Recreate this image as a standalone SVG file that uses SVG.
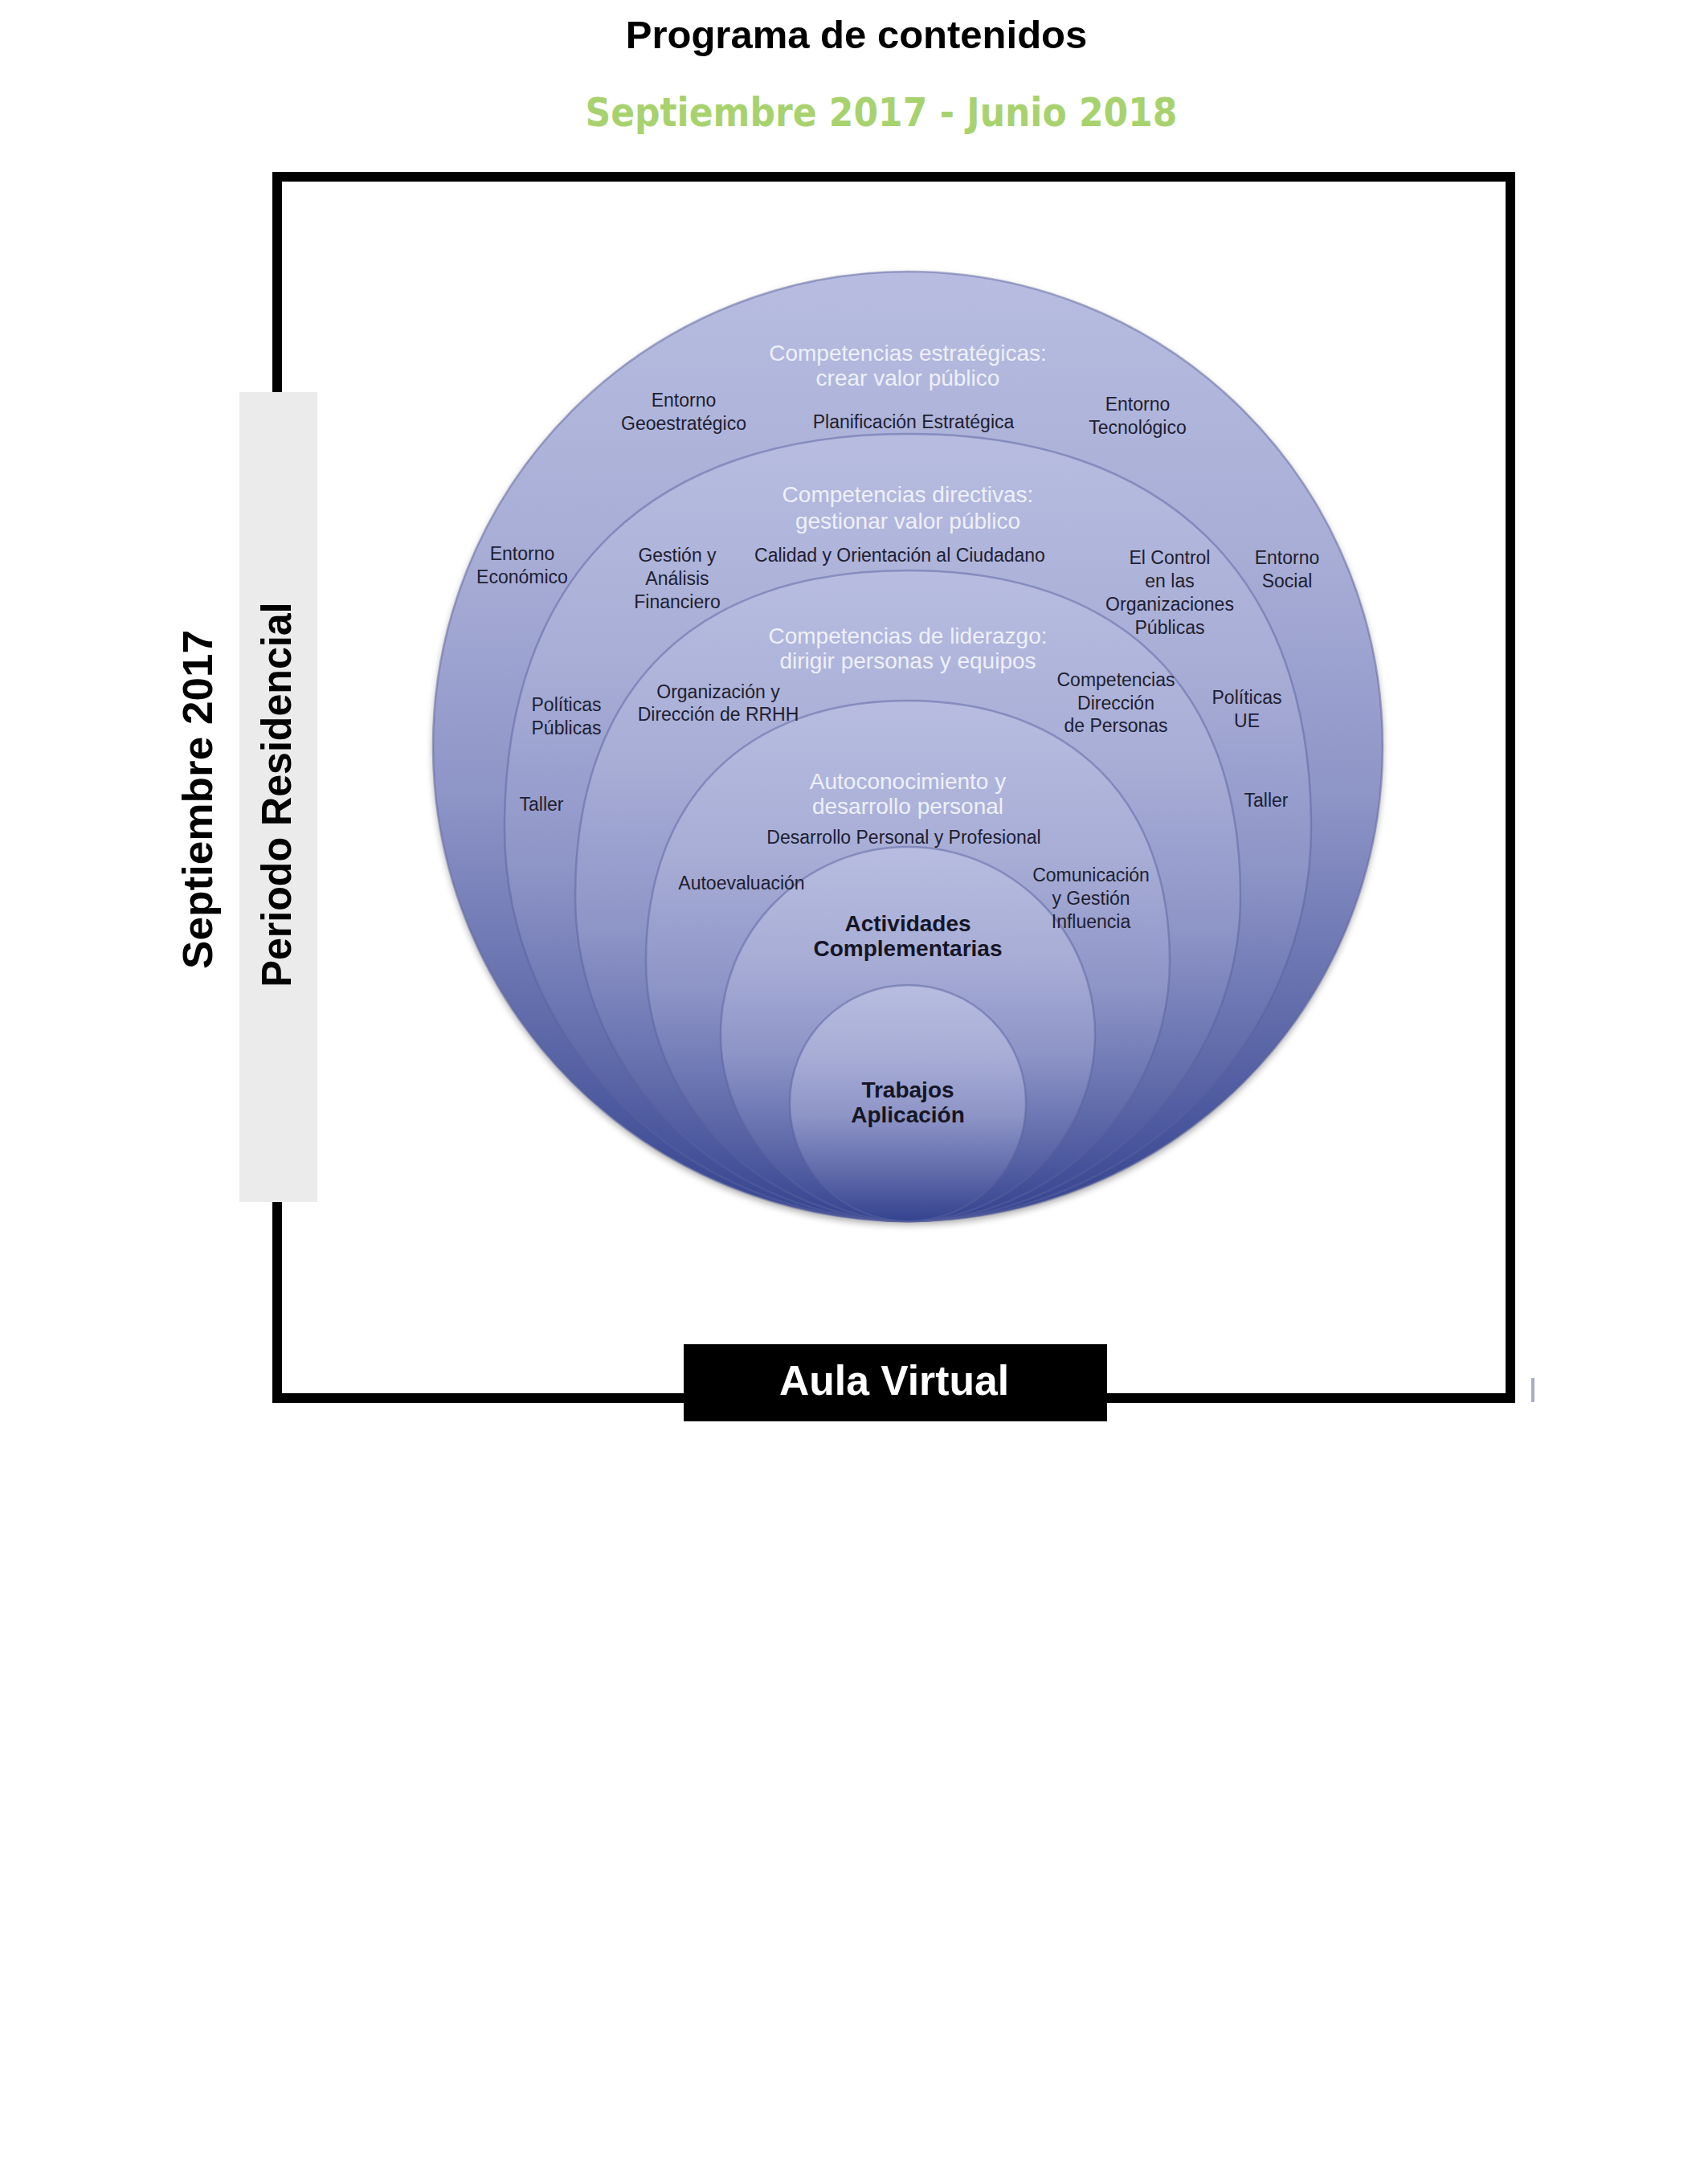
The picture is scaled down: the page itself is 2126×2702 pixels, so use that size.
<svg xmlns="http://www.w3.org/2000/svg" width="2126" height="2702" viewBox="0 0 2126 2702">
<defs>
<linearGradient id="ring" x1="0" y1="0" x2="0" y2="1">
<stop offset="0" stop-color="#b7bce0"/>
<stop offset="0.3" stop-color="#a8add6"/>
<stop offset="0.55" stop-color="#8e95c7"/>
<stop offset="0.8" stop-color="#5e69a9"/>
<stop offset="1" stop-color="#34438f"/>
</linearGradient>
<filter id="shadow" x="-10%" y="-10%" width="120%" height="120%">
<feGaussianBlur stdDeviation="5"/>
</filter>
<style>
.t{font-family:"Liberation Sans",Arial,sans-serif;fill:#1e1e30;font-size:23px;text-anchor:middle}
.h{font-family:"Liberation Sans",Arial,sans-serif;fill:#eef0fa;font-size:28px;text-anchor:middle}
.b{font-family:"Liberation Sans",Arial,sans-serif;fill:#151525;font-size:28px;font-weight:bold;text-anchor:middle}
.ring{fill:url(#ring);stroke:#5a62a0;stroke-opacity:0.5;stroke-width:2.5}
.side{font-family:"Liberation Sans",Arial,sans-serif;font-weight:bold;font-size:52px;fill:#000;text-anchor:middle}
</style>
</defs>
<rect width="2126" height="2702" fill="#fff"/>

<g id="title">
<text x="1066" y="60" font-family="'Liberation Sans',Arial,sans-serif" font-weight="bold" font-size="49" text-anchor="middle" fill="#000">Programa de contenidos</text>
</g>
<g id="subtitle">
<text x="1097" y="157" font-family="'DejaVu Sans',Verdana,sans-serif" font-weight="bold" font-size="50" text-anchor="middle" fill="#a8d26e" textLength="737" lengthAdjust="spacingAndGlyphs">Septiembre 2017 - Junio 2018</text>
</g>

<g id="frame">
<rect x="345" y="220" width="1535" height="1520" fill="none" stroke="#000" stroke-width="12"/>
</g>

<g id="periodo-residencial">
<rect x="298" y="488" width="97" height="1008" fill="#ebebeb"/>
<text class="side" transform="translate(362,989) rotate(-90)" textLength="479" lengthAdjust="spacingAndGlyphs">Periodo Residencial</text>
</g>
<g id="septiembre-2017">
<text class="side" transform="translate(264,995) rotate(-90)" textLength="422" lengthAdjust="spacingAndGlyphs">Septiembre 2017</text>
</g>

<g id="circles">
<circle cx="1130" cy="933" r="591" fill="#000" opacity="0.35" filter="url(#shadow)"/>
<g id="circle-estrategicas"><circle class="ring" cx="1130" cy="929" r="591"/></g>
<g id="circle-directivas"><path class="ring" d="M 628,1030 C 628,716.4 808.7,540 1130,540 C 1451.3,540 1632,716.4 1632,1030 C 1632,1300.6 1407.3,1520 1130,1520 C 852.7,1520 628,1300.6 628,1030 Z"/></g>
<g id="circle-liderazgo"><path class="ring" d="M 716,1115 C 716,855.8 865,710 1130,710 C 1395,710 1544,855.8 1544,1115 C 1544,1338.7 1358.7,1520 1130,1520 C 901.3,1520 716,1338.7 716,1115 Z"/></g>
<g id="circle-autoconocimiento"><path class="ring" d="M 804,1196 C 804,995.1 927.9,872 1130,872 C 1332.1,872 1456,995.1 1456,1196 C 1456,1374.9 1310,1520 1130,1520 C 950,1520 804,1374.9 804,1196 Z"/></g>
<g id="circle-actividades"><circle class="ring" cx="1130" cy="1287" r="233"/></g>
<g id="circle-trabajos"><circle class="ring" cx="1130" cy="1373" r="147"/></g>
</g>

<g id="labels-estrategicas">
<text class="h" x="1130" y="449">Competencias estratégicas:</text>
<text class="h" x="1130" y="480">crear valor público</text>
<text class="t" x="851" y="506">Entorno</text>
<text class="t" x="851" y="535">Geoestratégico</text>
<text class="t" x="1137" y="533">Planificación Estratégica</text>
<text class="t" x="1416" y="511">Entorno</text>
<text class="t" x="1416" y="540">Tecnológico</text>
<text class="t" x="650" y="697">Entorno</text>
<text class="t" x="650" y="726">Económico</text>
<text class="t" x="1602" y="702">Entorno</text>
<text class="t" x="1602" y="731">Social</text>
<text class="t" x="705" y="885">Políticas</text>
<text class="t" x="705" y="914">Públicas</text>
<text class="t" x="1552" y="876">Políticas</text>
<text class="t" x="1552" y="905">UE</text>
<text class="t" x="674" y="1009">Taller</text>
<text class="t" x="1576" y="1004">Taller</text>
</g>

<g id="labels-directivas">
<text class="h" x="1130" y="625">Competencias directivas:</text>
<text class="h" x="1130" y="658">gestionar valor público</text>
<text class="t" x="843" y="699">Gestión y</text>
<text class="t" x="843" y="728">Análisis</text>
<text class="t" x="843" y="757">Financiero</text>
<text class="t" x="1120" y="699">Calidad y Orientación al Ciudadano</text>
<text class="t" x="1456" y="702">El Control</text>
<text class="t" x="1456" y="731">en las</text>
<text class="t" x="1456" y="760">Organizaciones</text>
<text class="t" x="1456" y="789">Públicas</text>
</g>

<g id="labels-liderazgo">
<text class="h" x="1130" y="801">Competencias de liderazgo:</text>
<text class="h" x="1130" y="832">dirigir  personas y equipos</text>
<text class="t" x="894" y="869">Organización y</text>
<text class="t" x="894" y="897">Dirección de RRHH</text>
<text class="t" x="1389" y="854">Competencias</text>
<text class="t" x="1389" y="883">Dirección</text>
<text class="t" x="1389" y="911">de Personas</text>
</g>

<g id="labels-autoconocimiento">
<text class="h" x="1130" y="982">Autoconocimiento y</text>
<text class="h" x="1130" y="1013">desarrollo  personal</text>
<text class="t" x="1125" y="1050">Desarrollo Personal y Profesional</text>
<text class="t" x="923" y="1107">Autoevaluación</text>
<text class="t" x="1358" y="1097">Comunicación</text>
<text class="t" x="1358" y="1126">y Gestión</text>
<text class="t" x="1358" y="1155">Influencia</text>
</g>

<g id="labels-actividades">
<text class="b" x="1130" y="1159">Actividades</text>
<text class="b" x="1130" y="1190">Complementarias</text>
</g>

<g id="labels-trabajos">
<text class="b" x="1130" y="1366">Trabajos</text>
<text class="b" x="1130" y="1397">Aplicación</text>
</g>

<g id="aula-virtual">
<rect x="851" y="1673" width="527" height="96" fill="#000"/>
<text x="1113" y="1736" font-family="'Liberation Sans',Arial,sans-serif" font-weight="bold" font-size="52" fill="#fff" text-anchor="middle" textLength="286" lengthAdjust="spacingAndGlyphs">Aula Virtual</text>
</g>

<g id="mark">
<rect x="1906" y="1715" width="4" height="30" fill="#a9adc4"/>
</g>
</svg>
